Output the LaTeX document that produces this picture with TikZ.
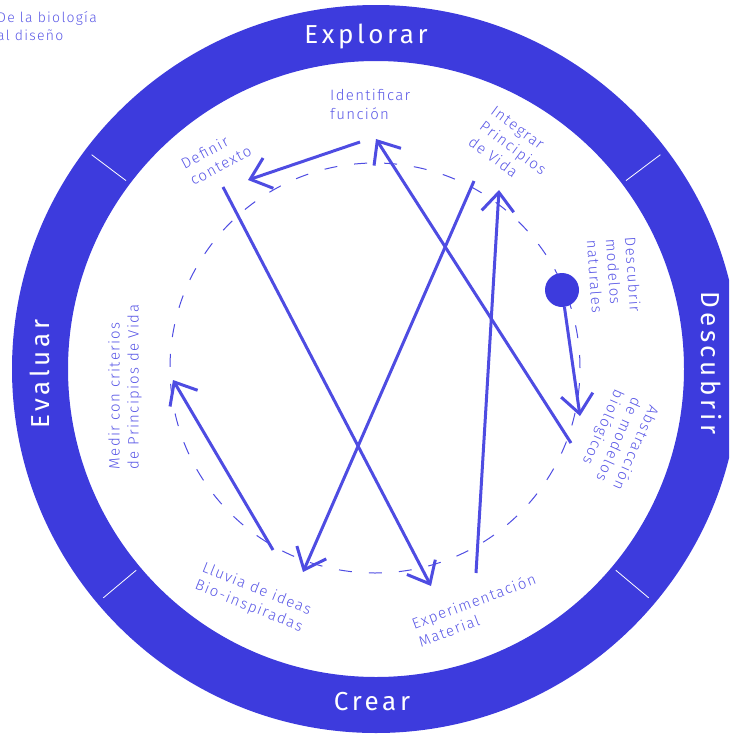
\documentclass[tikz,border=0pt]{standalone}
\usepackage{fontspec}
\usepackage{xcolor}
\usepackage{tikz}
\usetikzlibrary{arrows.meta}
\IfFontExistsTF{Fira Sans Light}
  {\newfontfamily\labfont{Fira Sans Light}[LetterSpace=9]}
  {\newfontfamily\labfont{Fira Sans}[LetterSpace=9]}
\newfontfamily\ringfont{Fira Sans}[LetterSpace=14]
\definecolor{ringblue}{RGB}{61,59,221}
\definecolor{lineblue}{RGB}{78,76,226}
\definecolor{textblue}{RGB}{90,88,230}

\begin{document}
\begin{tikzpicture}[x=1pt,y=-1pt,
  stage/.style={text=textblue, font=\labfont\fontsize{15}{19}\selectfont, align=left, inner sep=0pt},
  phase/.style={text=white, font=\ringfont\fontsize{26}{30}\selectfont, inner sep=0pt},
  flow/.style={draw=lineblue, line width=3pt, -{Straight Barb[length=19pt,width=32pt]}},
  dot/.style={circle, fill=ringblue, minimum size=34pt, inner sep=0pt}]
\useasboundingbox (0,0) rectangle (729,734);
\clip (0,0) rectangle (729,734);
\coordinate (o) at (376,369);
\fill[ringblue, even odd rule] (o) circle[radius=364pt] (o) circle[radius=308pt];
\foreach \a in {-37,-143,40,140}
  \draw[white, line width=0.8pt] (o) ++(\a:313) -- ++(\a:43);
\draw[lineblue, line width=1pt, dash pattern=on 13pt off 17pt] (375,368) circle[radius=205pt];

\node[phase, anchor=base] (explorar) at (366,43) {Explorar};
\node[phase, rotate=-90] (descubrir) at (711,363) {Descubrir};
\node[phase, anchor=base] (crear) at (372,710) {Crear};
\node[phase, rotate=90] (evaluar) at (40,374) {Evaluar};

\node[stage, anchor=north west, font=\labfont\fontsize{14}{18}\selectfont] (intro) at (-3,11) {De la biología\\al diseño};
\node[stage, anchor=north west] (ident) at (330,89) {Identificar\\función};
\node[stage, rotate=28] (defin) at (216,157) {Definir\\contexto};
\node[stage, rotate=-36.5] (integ) at (513,148) {Integrar\\Principios\\de Vida};
\node[stage, rotate=-86] (descu) at (614,276) {Descubrir\\modelos\\naturales};
\node[stage, rotate=-114] (abstr) at (618,440) {Abstracción\\de modelos\\biológicos};
\node[stage, rotate=20.5] (exper) at (477,610) {Experimentación\\Material};
\node[stage, rotate=-22] (lluvia) at (253,598) {Lluvia de ideas\\Bio-inspiradas};
\node[stage, rotate=90] (medir) at (125,387) {Medir con criterios\\de Principios de Vida};

\coordinate (ident1) at (360,142);
\coordinate (ident2) at (376,139);
\coordinate (defin1) at (248,180);
\coordinate (defin2) at (223,187);
\coordinate (exper1) at (431,586);
\coordinate (exper2) at (476,573);
\coordinate (integ1) at (499,190);
\coordinate (integ2) at (474,181);
\coordinate (lluvia1) at (303,572);
\coordinate (lluvia2) at (273,550);
\coordinate (medir1) at (173,380);
\coordinate (abstr1) at (580,416);
\coordinate (abstr2) at (571,443);
\node[dot] (origen) at (562,290) {};

\draw[flow] (origen) -- (abstr1);
\draw[flow] (abstr2) -- (ident2);
\draw[flow] (ident1) -- (defin1);
\draw[flow] (defin2) -- (exper1);
\draw[flow] (exper2) -- (integ1);
\draw[flow] (integ2) -- (lluvia1);
\draw[flow] (lluvia2) -- (medir1);
\end{tikzpicture}
\end{document}
